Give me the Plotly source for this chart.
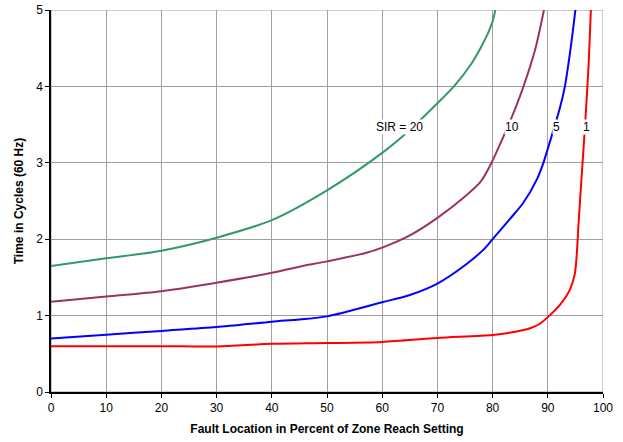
import plotly.graph_objects as go

# Data
sir20_x = [0, 10, 20, 30, 40, 50, 60, 65, 70, 73, 76, 77.8, 79, 80, 80.5]
sir20_y = [1.65, 1.75, 1.85, 2.02, 2.25, 2.64, 3.13, 3.43, 3.78, 4.0, 4.28, 4.5, 4.67, 4.85, 5.0]

sir10_x = [0, 10, 20, 30, 40, 45, 50, 57, 60, 65, 70, 75, 77.8, 79.6, 81.4, 84.1, 85.6, 87.7, 89.3]
sir10_y = [1.18, 1.25, 1.32, 1.43, 1.56, 1.64, 1.71, 1.82, 1.89, 2.05, 2.28, 2.56, 2.75, 2.97, 3.25, 3.71, 4.0, 4.48, 5.0]

sir5_x = [0, 10, 20, 30, 40, 45, 50, 60, 65, 70, 75, 78.3, 80, 83.2, 85.5, 88.0, 89.2, 90.4, 92.2, 93.1, 94.1, 95.0]
sir5_y = [0.70, 0.75, 0.80, 0.85, 0.92, 0.95, 0.99, 1.175, 1.27, 1.42, 1.66, 1.86, 2.0, 2.27, 2.47, 2.78, 3.0, 3.28, 3.72, 4.0, 4.48, 5.0]

sir1_x = [0, 10, 20, 30, 40, 50, 60, 70, 80, 83.8, 86.8, 88.5, 90, 92.2, 94, 94.9, 95.3, 95.5, 96.0, 96.8, 97.4, 97.8]
sir1_y = [0.60, 0.60, 0.60, 0.595, 0.63, 0.64, 0.655, 0.707, 0.747, 0.785, 0.835, 0.89, 0.98, 1.14, 1.34, 1.55, 1.86, 2.12, 2.68, 3.55, 4.3, 5.0]

x_ticks = [0, 10, 20, 30, 40, 50, 60, 70, 80, 90, 100]
y_ticks = [0, 1, 2, 3, 4, 5]

labels = ["SIR = 20", "10", "5", "1"]
label_x = [63.2, 83.5, 91.6, 97.0]
label_y = [3.47, 3.47, 3.47, 3.47]

series = [
    (sir20_x, sir20_y, "#339966"),
    (sir10_x, sir10_y, "#993366"),
    (sir5_x, sir5_y, "#0000FF"),
    (sir1_x, sir1_y, "#FF0000"),
]

fig = go.Figure()
for xs, ys, c in series:
    fig.add_trace(go.Scatter(x=xs, y=ys, mode="lines",
                             line=dict(color=c, width=2, shape="spline", smoothing=0.8),
                             showlegend=False, hoverinfo="skip"))

for t, xx, yy in zip(labels, label_x, label_y):
    fig.add_annotation(x=xx, y=yy, text=t, showarrow=False,
                       font=dict(family="Liberation Sans, Arial", size=12, color="#000000"),
                       bgcolor="white", borderpad=0)

fig.add_shape(type="rect", xref="x", yref="y", x0=0, x1=100, y0=0, y1=5,
              line=dict(color="#999999", width=1), layer="below")

fig.update_layout(
    width=623, height=442,
    margin=dict(l=51, r=20, t=10, b=50, autoexpand=False),
    paper_bgcolor="white", plot_bgcolor="white",
    font=dict(family="Liberation Sans, Arial", size=12, color="#000000"),
)
fig.update_xaxes(range=[0, 100], tickvals=x_ticks, showgrid=True, gridcolor="#a0a0a0", gridwidth=1,
                 showline=True, linecolor="#000000", linewidth=1.5, ticks="outside", ticklen=4,
                 tickcolor="#000000", zeroline=False, automargin=False,
                 title=dict(text="<b>Fault Location in Percent of Zone Reach Setting</b>",
                            font=dict(size=12), standoff=10))
fig.update_yaxes(range=[0, 5], tickvals=y_ticks, showgrid=True, gridcolor="#a0a0a0", gridwidth=1,
                 showline=True, linecolor="#000000", linewidth=1.5, ticks="outside", ticklen=4,
                 tickcolor="#000000", zeroline=False, automargin=False,
                 title=dict(text="<b>Time in Cycles (60 Hz)</b>", font=dict(size=12), standoff=10))

fig.write_html("out.html")
